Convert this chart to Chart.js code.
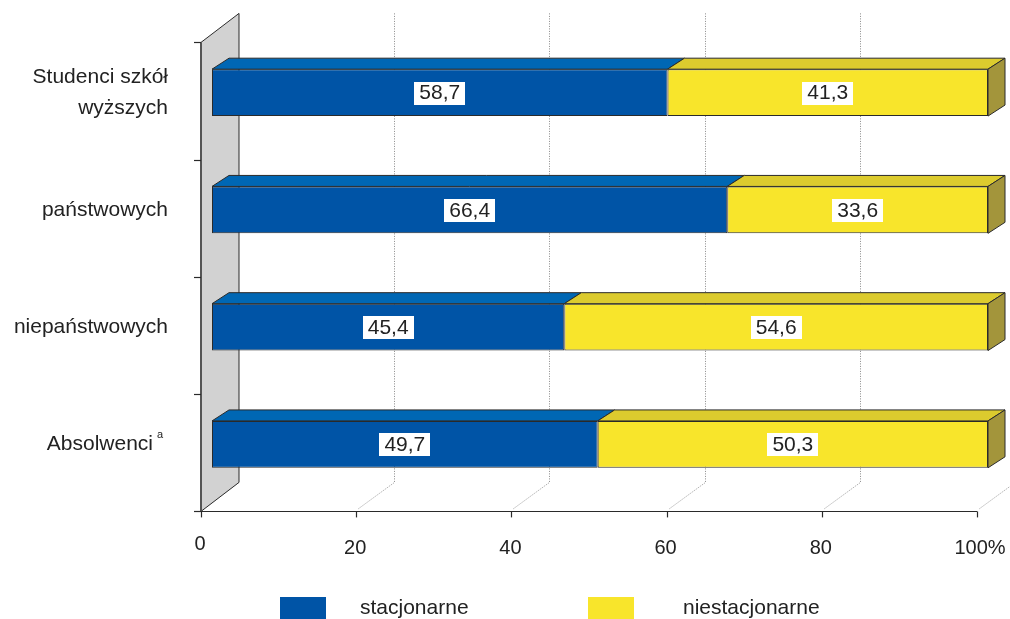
<!DOCTYPE html>
<html><head><meta charset="utf-8">
<script src="https://cdn.jsdelivr.net/npm/chart.js@4/dist/chart.umd.min.js"></script>
<style>html,body{margin:0;padding:0;background:#fff}#wrap{width:1010px;height:619px;position:relative}</style>
</head><body><div id="wrap"><canvas id="c"></canvas></div>
<script>
// ---- data ----
const categories = [['Studenci szkół','wyższych'], 'państwowych', 'niepaństwowych', 'Absolwenci'];
const footnotes = ['', '', '', 'a'];
const stacjonarne = [58.7, 66.4, 45.4, 49.7];
const niestacjonarne = [41.3, 33.6, 54.6, 50.3];
const seriesNames = ['stacjonarne', 'niestacjonarne'];
const xTickValues = [0, 20, 40, 60, 80, 100];
const xTickLabels = ['0', '20', '40', '60', '80', '100%'];

// ---- style ----
const FONT = '"Liberation Sans", Arial, Helvetica, sans-serif';
const TXT = '#222';
const EDGE = '#2a2a2a';
const FRONT = ['#0054A6', '#F8E52B'];
const TOP = ['#0067B4', '#DCCB2E'];
const SIDE = '#A3953B';
const WALL_DX = 38, WALL_DY = -29;     // depth of the wall / floor
const SHIFT_X = 11, SHIFT_Y = 8.4;      // bar front plane -> axis plane
const BAR_DX = 17, BAR_DY = -11;        // depth of bars

const fmt = v => v.toFixed(1).replace('.', ',');

const scene = {
  id: 'scene',
  beforeDatasetsDraw(chart) {
    const ctx = chart.ctx, x = chart.scales.x, y = chart.scales.y, ca = chart.chartArea;
    const ax = v => x.getPixelForValue(v) - SHIFT_X;
    const top = ca.top + SHIFT_Y, bot = ca.bottom + SHIFT_Y;
    const x0 = ax(0);
    ctx.save();
    // wall
    ctx.beginPath();
    ctx.moveTo(x0, top); ctx.lineTo(x0 + WALL_DX, top + WALL_DY);
    ctx.lineTo(x0 + WALL_DX, bot + WALL_DY); ctx.lineTo(x0, bot); ctx.closePath();
    ctx.fillStyle = '#D2D2D2'; ctx.fill();
    ctx.strokeStyle = EDGE; ctx.lineWidth = 1; ctx.stroke();
    ctx.beginPath(); ctx.moveTo(x0, top); ctx.lineTo(x0, bot);
    ctx.strokeStyle = '#555'; ctx.lineWidth = 2; ctx.stroke();
    // grid lines (dotted)
    ctx.setLineDash([1, 1.5]); ctx.strokeStyle = '#888'; ctx.lineWidth = 1;
    xTickValues.forEach(v => {
      if (v === 0) return;
      const px = Math.round(ax(v)) + 0.5;
      ctx.beginPath();
      ctx.moveTo(px + WALL_DX, top + WALL_DY); ctx.lineTo(px + WALL_DX, bot + WALL_DY);
      ctx.lineTo(px + 1, bot - 2);
      ctx.stroke();
    });
    ctx.setLineDash([]);
    // axes
    ctx.strokeStyle = EDGE; ctx.lineWidth = 1.2;
    ctx.beginPath(); ctx.moveTo(x0 - 7, Math.round(bot) + 0.5); ctx.lineTo(ax(100), Math.round(bot) + 0.5); ctx.stroke();
    xTickValues.forEach(v => {
      const px = Math.round(ax(v)) + 0.5;
      ctx.beginPath(); ctx.moveTo(px, bot); ctx.lineTo(px, bot + 6); ctx.stroke();
    });
    for (let i = 0; i <= categories.length; i++) {
      const py = Math.round(top + (bot - top) * i / categories.length) + 0.5;
      ctx.beginPath(); ctx.moveTo(x0 - 7, py); ctx.lineTo(x0, py); ctx.stroke();
    }
    // x tick labels
    ctx.fillStyle = TXT; ctx.font = '20px ' + FONT; ctx.textAlign = 'center'; ctx.textBaseline = 'middle';
    xTickValues.forEach((v, i) => {
      const px = ax(v) + (i === xTickValues.length - 1 ? 3 : -1);
      ctx.fillText(xTickLabels[i], px, i === 0 ? bot + 33 : bot + 37);
    });
    // category labels
    ctx.textAlign = 'right';
    categories.forEach((c, i) => {
      const py = y.getPixelForValue(i);
      const lines = Array.isArray(c) ? c : [c];
      const lh = 31;
      let rx = 168;
      if (footnotes[i]) {
        ctx.font = '11px ' + FONT; ctx.textAlign = 'left';
        ctx.fillText(footnotes[i], 157, py - 9);
        ctx.textAlign = 'right'; rx = 153;
      }
      ctx.font = '21px ' + FONT;
      lines.forEach((l, k) => ctx.fillText(l, rx, py + (k - (lines.length - 1) / 2) * lh));
    });
    // legend
    const legBox = [280, 588], legTxt = [360, 683];
    chart.data.datasets.forEach((ds, i) => {
      ctx.fillStyle = ds.backgroundColor;
      ctx.fillRect(legBox[i], 597, 46, 22);
      ctx.fillStyle = TXT; ctx.textAlign = 'left'; ctx.font = '21px ' + FONT;
      ctx.fillText(ds.label, legTxt[i], 608);
    });
    ctx.restore();
  },
  afterDatasetsDraw(chart) {
    const ctx = chart.ctx;
    ctx.save();
    ctx.strokeStyle = EDGE; ctx.lineWidth = 1; ctx.lineJoin = 'round';
    const metas = chart.data.datasets.map((d, i) => chart.getDatasetMeta(i));
    metas.forEach((meta, di) => {
      meta.data.forEach((el, j) => {
        const p = el.getProps(['x', 'y', 'base', 'height'], true);
        const xa = Math.min(p.base, p.x), xb = Math.max(p.base, p.x);
        const yt = p.y - p.height / 2, yb = p.y + p.height / 2;
        // top face
        ctx.beginPath();
        ctx.moveTo(xa, yt); ctx.lineTo(xb, yt); ctx.lineTo(xb + BAR_DX, yt + BAR_DY);
        ctx.lineTo(xa + BAR_DX, yt + BAR_DY); ctx.closePath();
        ctx.fillStyle = TOP[di]; ctx.fill(); ctx.stroke();
        // side face on last segment
        if (di === metas.length - 1) {
          ctx.beginPath();
          ctx.moveTo(xb, yt); ctx.lineTo(xb + BAR_DX, yt + BAR_DY);
          ctx.lineTo(xb + BAR_DX, yb + BAR_DY); ctx.lineTo(xb, yb); ctx.closePath();
          ctx.fillStyle = SIDE; ctx.fill(); ctx.stroke();
        }
      });
    });
    // value labels
    ctx.font = '21px ' + FONT; ctx.textAlign = 'center'; ctx.textBaseline = 'middle';
    metas.forEach((meta, di) => {
      const vals = chart.data.datasets[di].data;
      meta.data.forEach((el, j) => {
        const p = el.getProps(['x', 'y', 'base'], true);
        const cx = (p.x + p.base) / 2, cy = p.y;
        const t = fmt(vals[j]);
        const w = ctx.measureText(t).width + 10;
        ctx.fillStyle = '#fff';
        ctx.fillRect(Math.round(cx - w / 2), Math.round(cy - 11), Math.round(w), 23);
        ctx.fillStyle = TXT;
        ctx.fillText(t, cx, cy + 1);
      });
    });
    ctx.restore();
  }
};

new Chart(document.getElementById('c'), {
  type: 'bar',
  data: {
    labels: categories.map(c => Array.isArray(c) ? c.join(' ') : c),
    datasets: [
      { label: seriesNames[0], data: stacjonarne, backgroundColor: FRONT[0], borderColor: EDGE, borderWidth: 1, borderSkipped: false },
      { label: seriesNames[1], data: niestacjonarne, backgroundColor: FRONT[1], borderColor: EDGE, borderWidth: 1, borderSkipped: false }
    ]
  },
  options: {
    indexAxis: 'y',
    responsive: true,
    maintainAspectRatio: false,
    animation: false,
    layout: { padding: { left: 212, right: 22, top: 34, bottom: 116 } },
    datasets: { bar: { barPercentage: 0.4, categoryPercentage: 1.0 } },
    scales: {
      x: { stacked: true, min: 0, max: 100, display: false },
      y: { stacked: true, display: false }
    },
    plugins: { legend: { display: false }, tooltip: { enabled: false } }
  },
  plugins: [scene]
});
</script>
</body></html>
